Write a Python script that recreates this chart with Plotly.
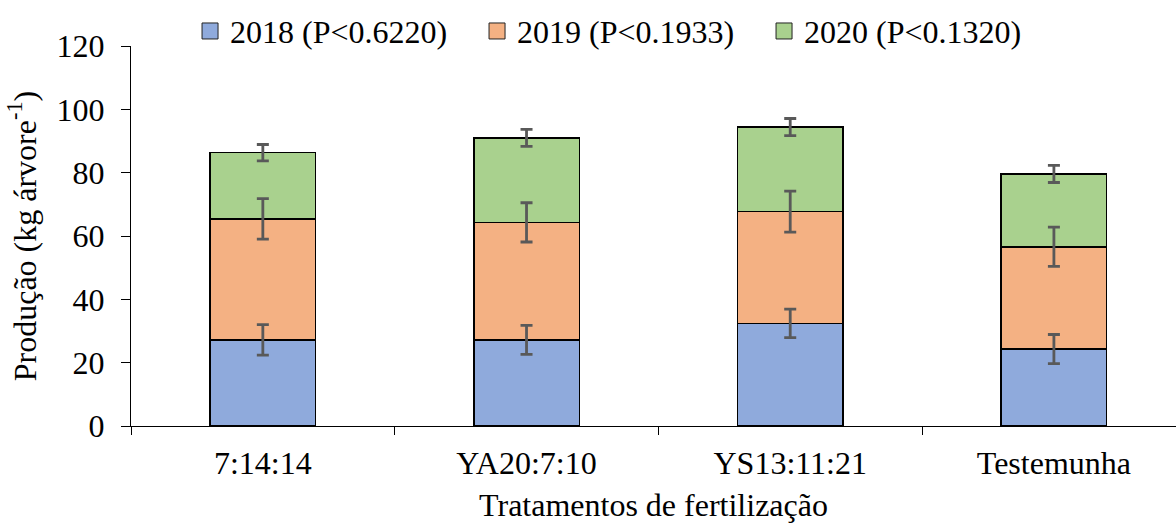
import plotly.graph_objects as go

categories = ["7:14:14", "YA20:7:10", "YS13:11:21", "Testemunha"]
series_names = ["2018 (P<0.6220)", "2019 (P<0.1933)", "2020 (P<0.1320)"]
v2018 = [27.2, 27.2, 32.4, 24.3]
v2019 = [38.2, 37.1, 35.3, 32.3]
v2020 = [20.9, 26.7, 26.7, 23.0]
e2018 = [4.8, 4.6, 4.5, 4.6]
e2019 = [6.4, 6.2, 6.5, 6.2]
e2020 = [2.6, 2.7, 2.7, 2.7]
colors = ["#8FAADC", "#F4B183", "#A9D18E"]

FONT = "Liberation Serif, Times New Roman, serif"
FS = 32
fig = go.Figure()
values = [v2018, v2019, v2020]
errors = [e2018, e2019, e2020]
for name, vals, col in zip(series_names, values, colors):
    fig.add_trace(go.Bar(
        x=categories, y=vals, name=name, width=0.4, showlegend=False,
        marker=dict(color=col, line=dict(color="#000000", width=1.5)),
    ))

# error bars drawn on top of all stacked segments, at each segment's cumulative top
cum = [0.0] * len(categories)
for vals, errs in zip(values, errors):
    cum = [c + v for c, v in zip(cum, vals)]
    fig.add_trace(go.Scatter(
        x=categories, y=cum, mode="markers", showlegend=False, hoverinfo="skip",
        marker=dict(size=1, color="rgba(0,0,0,0)"),
        error_y=dict(type="data", array=errs, visible=True, color="#595959", thickness=2.8, width=6),
    ))

# legend entries (square swatches)
for name, col in zip(series_names, colors):
    fig.add_trace(go.Scatter(
        x=[None], y=[None], mode="markers", name=name,
        marker=dict(symbol="square", size=16, color=col, line=dict(color="#222222", width=1)),
    ))

fig.update_layout(
    barmode="stack",
    width=1176, height=523,
    margin=dict(l=131, r=0, t=46, b=97),
    paper_bgcolor="white", plot_bgcolor="white",
    font=dict(family=FONT, size=FS, color="#000000"),
    legend=dict(orientation="h", x=0.0565, xanchor="left", y=1.039, yanchor="middle",
                font=dict(family=FONT, size=FS), itemwidth=30, entrywidth=242,
                itemsizing="trace", traceorder="normal"),
    xaxis=dict(
        range=[-0.5, 3.463], tickson="boundaries", ticks="outside", ticklen=8, tickwidth=1,
        tickcolor="#000000", showline=True, linecolor="#000000", linewidth=1,
        showgrid=False, ticklabelstandoff=9,
        title=dict(text="Tratamentos de fertilização", font=dict(family=FONT, size=FS), standoff=14),
    ),
    yaxis=dict(
        range=[0, 120], dtick=20, ticks="outside", ticklen=9, tickwidth=1,
        tickcolor="#000000", showline=True, linecolor="#000000", linewidth=1,
        showgrid=False, zeroline=False, ticklabelstandoff=10,
        title=dict(text="Produção (kg árvore<sup>-1</sup>)", font=dict(family=FONT, size=FS), standoff=10),
    ),
    showlegend=True,
)

fig.write_html("out.html")
